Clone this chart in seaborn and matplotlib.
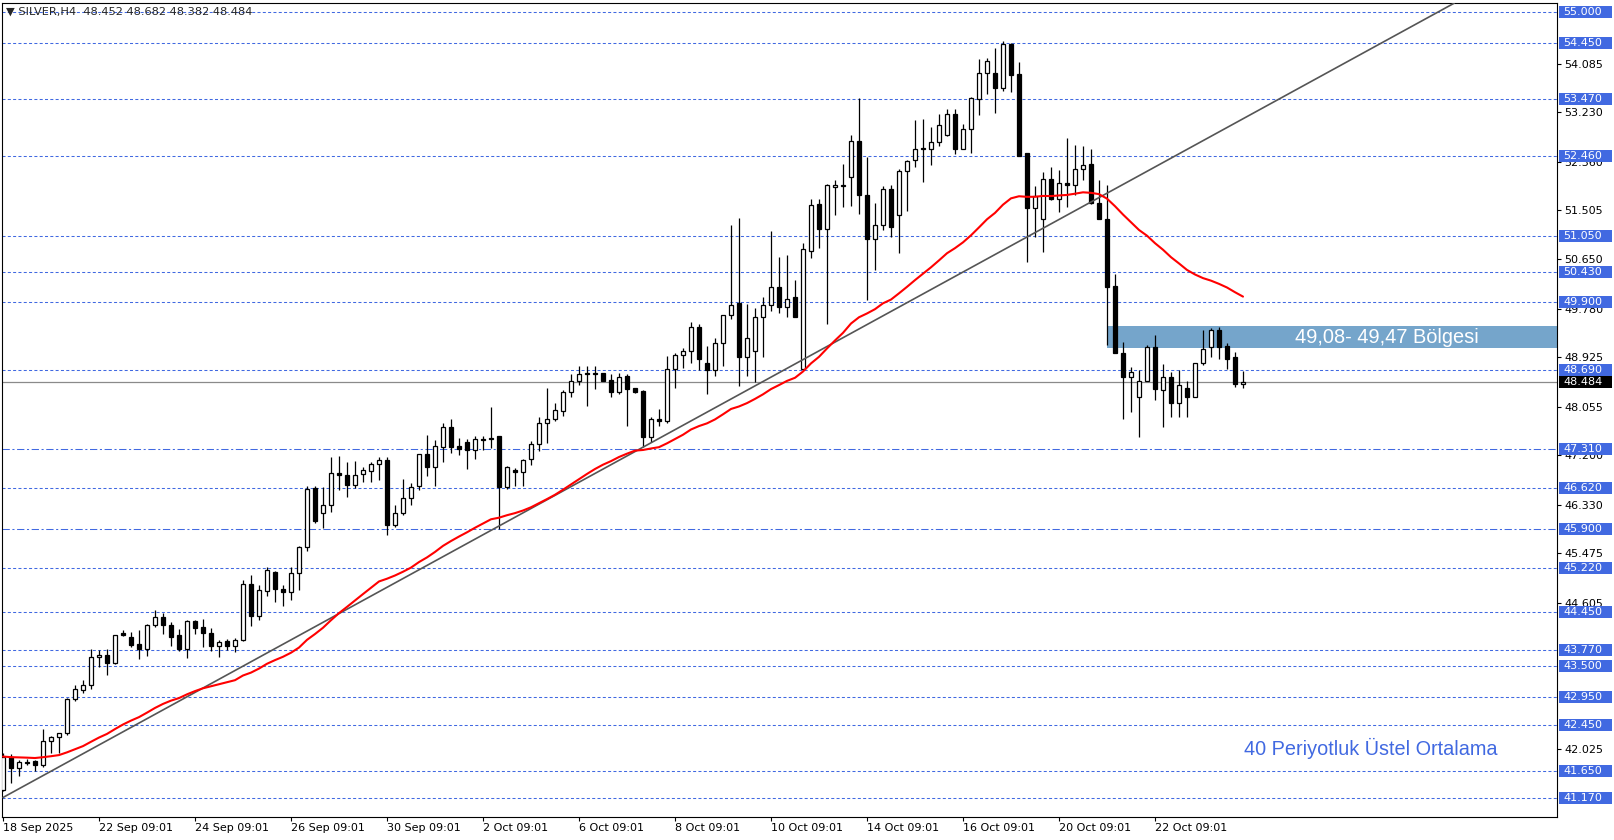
import numpy as np
import pandas as pd
import matplotlib
matplotlib.use("Agg")
import matplotlib.pyplot as plt
from matplotlib.patches import Rectangle
import seaborn as sns

# H4 candles, SILVER, 18 Sep - 23 Oct 2025
opens = [41.32, 41.90, 41.69, 41.80, 41.82, 41.75, 42.17, 42.24, 42.32, 42.91,
         43.07, 43.15, 43.65, 43.68, 43.55, 44.07, 44.00, 43.88, 43.79, 44.22,
         44.36, 44.21, 44.03, 43.80, 44.28, 44.18, 44.07, 43.84, 43.93, 43.84,
         43.95, 44.93, 44.37, 44.82, 45.14, 44.84, 44.79, 45.12, 45.58, 46.62,
         46.18, 46.32, 46.88, 46.86, 46.67, 46.87, 46.92, 47.05, 47.12, 45.97,
         46.19, 46.44, 46.65, 47.22, 47.00, 47.35, 47.69, 47.36, 47.43, 47.30,
         47.49, 47.48, 47.54, 46.64, 46.94, 46.90, 47.13, 47.40, 47.76, 47.84,
         47.98, 48.32, 48.50, 48.64, 48.63, 48.64, 48.52, 48.32, 48.59, 48.38,
         48.33, 47.52, 47.83, 47.80, 48.72, 48.96, 49.03, 49.45, 48.83, 48.69,
         49.18, 49.67, 49.87, 48.92, 49.04, 49.63, 49.84, 50.16, 49.80, 49.98,
         48.71, 50.80, 51.62, 51.18, 51.92, 51.93, 52.10, 52.72, 51.77, 51.00,
         51.24, 51.88, 51.42, 52.19, 52.39, 52.60, 52.59, 52.70, 52.83, 53.20,
         52.59, 52.93, 53.46, 53.92, 53.92, 53.65, 54.43, 53.90, 52.51, 51.54,
         51.36, 52.05, 51.71, 51.98, 51.95, 52.23, 52.33, 51.63, 51.35, 50.17,
         48.99, 48.58, 48.22, 48.50, 49.10, 48.35, 48.57, 48.12, 48.39, 48.23,
         48.82, 49.10, 49.40, 49.12, 48.92, 48.452]
highs = [41.97, 41.95, 41.84, 41.86, 41.84, 42.38, 42.27, 42.32, 42.93, 43.15,
         43.25, 43.79, 43.77, 43.80, 44.04, 44.13, 44.09, 44.12, 44.24, 44.48,
         44.42, 44.27, 44.14, 44.31, 44.31, 44.32, 44.16, 43.95, 43.97, 43.99,
         45.00, 45.10, 44.92, 45.24, 45.17, 44.92, 45.24, 45.60, 46.65, 46.65,
         46.64, 47.17, 47.19, 47.08, 47.09, 46.99, 47.08, 47.16, 47.16, 46.32,
         46.79, 46.71, 47.22, 47.56, 47.47, 47.77, 47.83, 47.50, 47.48, 47.54,
         47.53, 48.04, 47.54, 47.01, 46.98, 47.14, 47.45, 47.87, 48.38, 48.11,
         48.35, 48.63, 48.77, 48.77, 48.77, 48.65, 48.62, 48.64, 48.62, 48.38,
         48.35, 47.88, 48.01, 48.94, 49.00, 49.09, 49.55, 49.51, 49.12, 49.26,
         49.67, 51.25, 51.37, 49.86, 49.79, 49.98, 51.14, 50.68, 50.72, 50.28,
         50.93, 51.70, 51.71, 51.97, 52.04, 52.32, 52.83, 53.49, 52.45, 51.64,
         51.93, 51.96, 52.23, 52.40, 53.10, 53.11, 52.97, 53.20, 53.29, 53.29,
         53.02, 53.50, 54.16, 54.19, 54.36, 54.48, 54.45, 54.12, 52.51, 51.93,
         52.18, 52.26, 52.22, 52.78, 52.66, 52.64, 52.58, 52.04, 51.95, 50.39,
         49.19, 48.75, 48.69, 49.13, 49.31, 48.80, 48.66, 48.69, 48.50, 48.82,
         49.40, 49.44, 49.45, 49.17, 49.02, 48.682]
lows = [41.30, 41.44, 41.56, 41.76, 41.64, 41.72, 41.96, 41.96, 42.28, 42.87,
        43.01, 43.09, 43.47, 43.34, 43.52, 44.02, 43.82, 43.62, 43.66, 44.18,
        44.05, 43.84, 43.76, 43.63, 44.05, 43.82, 43.76, 43.65, 43.77, 43.74,
        43.94, 44.19, 44.30, 44.72, 44.61, 44.55, 44.66, 44.83, 45.52, 46.01,
        45.92, 46.20, 46.59, 46.47, 46.62, 46.72, 46.72, 46.76, 45.80, 45.93,
        46.15, 46.33, 46.59, 46.83, 46.66, 47.08, 47.24, 47.20, 46.95, 47.13,
        47.29, 47.32, 45.91, 46.61, 46.65, 46.65, 47.02, 47.28, 47.41, 47.80,
        47.89, 48.23, 48.43, 48.07, 48.36, 48.50, 48.23, 48.28, 47.72, 48.29,
        47.34, 47.44, 47.72, 47.77, 48.39, 48.73, 48.83, 48.70, 48.27, 48.59,
        48.77, 49.60, 48.41, 48.59, 48.49, 48.92, 49.74, 49.70, 49.63, 49.63,
        48.71, 50.66, 50.84, 49.51, 51.43, 51.56, 51.58, 51.45, 49.93, 50.46,
        51.16, 51.04, 50.76, 51.50, 52.27, 52.01, 52.30, 52.63, 52.81, 52.49,
        52.59, 52.52, 53.19, 53.55, 53.21, 53.60, 53.59, 52.47, 50.59, 51.04,
        50.78, 51.69, 51.47, 51.57, 51.77, 52.04, 51.62, 51.35, 49.14, 48.99,
        47.84, 47.96, 47.52, 48.50, 48.17, 47.70, 47.88, 47.88, 47.88, 48.23,
        48.79, 48.93, 48.90, 48.72, 48.40, 48.382]
closes = [41.90, 41.69, 41.80, 41.79, 41.75, 42.17, 42.24, 42.32, 42.91, 43.09,
          43.16, 43.65, 43.68, 43.55, 44.04, 44.03, 43.87, 43.79, 44.21, 44.36,
          44.21, 44.01, 43.80, 44.28, 44.16, 44.07, 43.84, 43.91, 43.84, 43.95,
          44.93, 44.37, 44.83, 45.18, 44.85, 44.80, 45.12, 45.58, 46.60, 46.05,
          46.32, 46.88, 46.86, 46.67, 46.86, 46.94, 47.05, 47.12, 45.97, 46.19,
          46.44, 46.64, 47.22, 47.00, 47.37, 47.69, 47.35, 47.31, 47.30, 47.48,
          47.47, 47.51, 46.64, 47.00, 46.90, 47.12, 47.40, 47.76, 47.83, 47.99,
          48.32, 48.50, 48.63, 48.62, 48.65, 48.51, 48.32, 48.58, 48.37, 48.32,
          47.52, 47.83, 47.80, 48.72, 48.96, 49.03, 49.45, 48.89, 48.69, 49.18,
          49.67, 49.84, 48.92, 49.27, 49.63, 49.84, 50.16, 49.81, 49.94, 49.63,
          50.82, 51.60, 51.18, 51.95, 51.96, 51.96, 52.72, 51.77, 51.00, 51.24,
          51.88, 51.22, 52.19, 52.38, 52.59, 52.59, 52.70, 53.00, 53.20, 52.59,
          52.93, 53.48, 53.92, 54.13, 53.65, 54.43, 53.89, 52.47, 51.55, 51.76,
          52.05, 51.71, 51.98, 51.95, 52.23, 52.30, 51.63, 51.35, 50.16, 48.99,
          48.58, 48.66, 48.50, 49.10, 48.36, 48.57, 48.12, 48.43, 48.23, 48.82,
          49.07, 49.40, 49.11, 48.90, 48.452, 48.484]

date_labels = ["18 Sep 2025", "22 Sep 09:01", "24 Sep 09:01", "26 Sep 09:01",
               "30 Sep 09:01", "2 Oct 09:01", "6 Oct 09:01", "8 Oct 09:01",
               "10 Oct 09:01", "14 Oct 09:01", "16 Oct 09:01", "20 Oct 09:01",
               "22 Oct 09:01"]
bars_per_label = 12

level_lines = [55.000, 54.450, 53.470, 52.460, 51.050, 50.430, 49.900, 48.690,
               47.310, 46.620, 45.900, 45.220, 44.450, 43.770, 43.500, 42.950,
               42.450, 41.650, 41.170]
dashdot_levels = [47.310, 45.900]
scale_ticks = [54.085, 53.230, 52.360, 51.505, 50.650, 49.780, 48.925, 48.055,
               47.200, 46.330, 45.475, 44.605, 42.025]

zone_low, zone_high = 49.08, 49.47
zone_start_bar = 138
trend_bars = [0, 181.4]
trend_prices = [41.18, 55.15]

ema_period = 40

LEVEL_BLUE = "#4169E1"

sns.set_style("white")
plt.rcParams['font.family'] = ['DejaVu Sans']

df = pd.DataFrame({"bar": np.arange(len(closes)), "open": opens, "high": highs,
                   "low": lows, "close": closes})
df["ema"] = df["close"].ewm(span=ema_period, adjust=False).mean()

fig = plt.figure(figsize=(16.14, 8.40), dpi=100)
ax = fig.add_axes([2 / 1614, 23 / 840, 1555 / 1614, 814 / 840])
ax.set_xlim(-0.125, 194.25)
ax.set_ylim(40.837, 55.153)

# horizontal levels
for lv in level_lines:
    ls = (0, (7, 2.5, 2, 2.5)) if lv in dashdot_levels else (0, (2.9, 2.2))
    ax.axhline(lv, color=LEVEL_BLUE, lw=0.75, ls=ls, zorder=1)
ax.axhline(closes[-1], color="#8a8a8a", lw=0.9, zorder=1)

# support/resistance zone
ax.add_patch(Rectangle((zone_start_bar, zone_low), 300, zone_high - zone_low,
                       fc="#75A5CB", ec="none", zorder=1.5))

# candles
up = df["close"] >= df["open"]
body_lo = df[["open", "close"]].min(axis=1)
body_h = (df["close"] - df["open"]).abs().clip(lower=0.018)
ax.vlines(df["bar"], df["low"], df["high"], color="black", lw=0.9, zorder=2)
ax.bar(df["bar"][up], body_h[up], bottom=body_lo[up], width=0.5,
       color="white", edgecolor="black", linewidth=0.9, zorder=3)
ax.bar(df["bar"][~up], body_h[~up], bottom=body_lo[~up], width=0.5,
       color="black", edgecolor="black", linewidth=0.9, zorder=3)

# trend line and EMA
ax.plot(trend_bars, trend_prices, color="#555555", lw=1.2, zorder=4)
sns.lineplot(data=df, x="bar", y="ema", color="#FF0000", lw=1.5, ax=ax, zorder=5)
ax.set_xlabel("")
ax.set_ylabel("")

ax.text(173, 49.275, "49,08- 49,47 Bölgesi", color="white", fontsize=14.4,
        family="Liberation Sans", ha="center", va="center", zorder=6)
ax.text(171, 42.04, "40 Periyotluk Üstel Ortalama", color=LEVEL_BLUE,
        fontsize=14.3, family="Liberation Sans", ha="center", va="center", zorder=6)

# axes styling
for sp in ax.spines.values():
    sp.set_color("black")
    sp.set_linewidth(0.8)
    sp.set_visible(True)

ax.yaxis.tick_right()
ax.set_yticks(scale_ticks)
ax.set_yticklabels([f"{v:.3f}" for v in scale_ticks])
ax.set_xticks(np.arange(len(date_labels)) * bars_per_label)
ax.set_xticklabels(date_labels)
plt.setp(ax.get_xticklabels(), ha="left")
ax.tick_params(axis="y", which="both", right=True, left=False, direction="out",
               length=3, width=0.8, pad=2, labelsize=8, colors="black")
ax.tick_params(axis="x", which="both", bottom=True, direction="out",
               length=3, width=0.8, pad=1.5, labelsize=8, colors="black")

# price labels on the scale
ytr = ax.get_yaxis_transform()
box_h = 12 / 56.86
px = 1 / 1555
for lv in level_lines:
    ax.add_patch(Rectangle((1 + 2 * px, lv - box_h / 2), 53 * px, box_h,
                           transform=ytr, fc=LEVEL_BLUE, ec="none",
                           clip_on=False, zorder=7))
    ax.text(1 + 6 * px, lv, f"{lv:.3f}", transform=ytr, color="white",
            fontsize=8, ha="left", va="center", clip_on=False, zorder=8)
ax.add_patch(Rectangle((1 + 2 * px, closes[-1] - box_h / 2), 53 * px, box_h,
                       transform=ytr, fc="black", ec="none", clip_on=False, zorder=7))
ax.text(1 + 6 * px, closes[-1], f"{closes[-1]:.3f}", transform=ytr, color="white",
        fontsize=8, ha="left", va="center", clip_on=False, zorder=8)

title = (f"\u25bc SILVER,H4  {opens[-1]:.3f} {highs[-1]:.3f} "
         f"{lows[-1]:.3f} {closes[-1]:.3f}")
fig.text(6 / 1614, 1 - 12 / 840, title, fontsize=8.2, ha="left", va="center")

fig.savefig("out.png", dpi=100, facecolor="white")
